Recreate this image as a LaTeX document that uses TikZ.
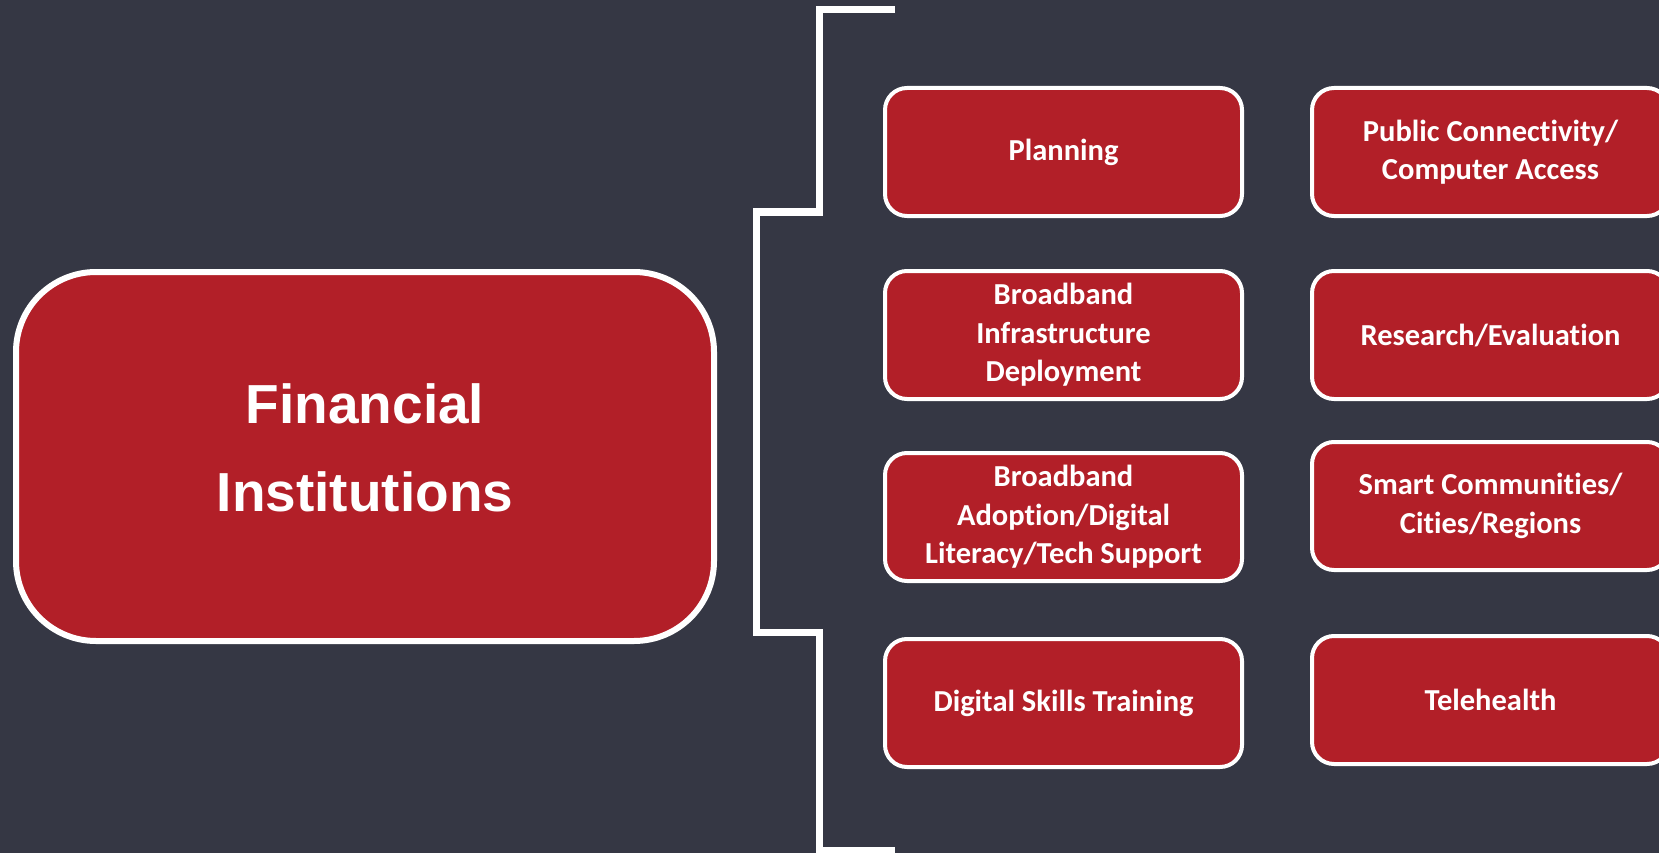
\documentclass[tikz,border=0pt]{standalone}
\usepackage{fontspec}
\setmainfont[Ligatures=NoCommon]{Carlito}
\newfontfamily\arialfont{Liberation Sans}
\usetikzlibrary{positioning}
\definecolor{slate}{RGB}{53,55,68}
\definecolor{brick}{RGB}{178,31,40}

\begin{document}
\begin{tikzpicture}[x=1pt, y=-1pt,
	topic/.style={draw=white, line width=4pt, fill=brick, rounded corners=22pt,
		minimum width=357pt, minimum height=128pt, inner sep=0pt,
		text=white, align=center, font=\bfseries\fontsize{30.5}{38.5}\selectfont},
	hub/.style={draw=white, line width=6pt, fill=brick, rounded corners=80pt,
		minimum width=698pt, minimum height=369pt, inner sep=0pt,
		text=white, align=center, font=\arialfont\bfseries\fontsize{55}{88}\selectfont}]
	\fill[slate] (0,0) rectangle (1659,853);
	\useasboundingbox (0,0) rectangle (1659,853);
	\clip (0,0) rectangle (1659,853);
	
	\def\gap{66pt};
	
	\node[hub] (inst) at (365,456.5) {};
	\node[text=white, align=center, font=\arialfont\bfseries\fontsize{55}{88}\selectfont]
		(title) at (365,448) {Financial\\Institutions};
	
	\node[topic] (a1) at (1063.5,152) {Planning};
	\node[topic, below=51pt of a1] (a2) {Broadband\\Infrastructure\\Deployment};
	\node[topic, below=50pt of a2] (a3) {Broadband\\Adoption/Digital\\Literacy/Tech Support};
	\node[topic, below=54pt of a3] (a4) {Digital Skills Training};
	\node[topic, right=\gap of a1] (b1) {Public Connectivity/\\Computer Access};
	\node[topic, right=\gap of a2] (b2) {Research/Evaluation};
	\node[topic, below=39pt of b2] (b3) {Smart Communities/\\Cities/Regions};
	\node[topic, below=62pt of b3] (b4) {Telehealth};
	
	\draw[white, line width=7pt] (895,10) -- (819,10) -- (819,212) -- (756,212)
		-- (756,632) -- (819,632) -- (819,850) -- (895,850);
\end{tikzpicture}
\end{document}
